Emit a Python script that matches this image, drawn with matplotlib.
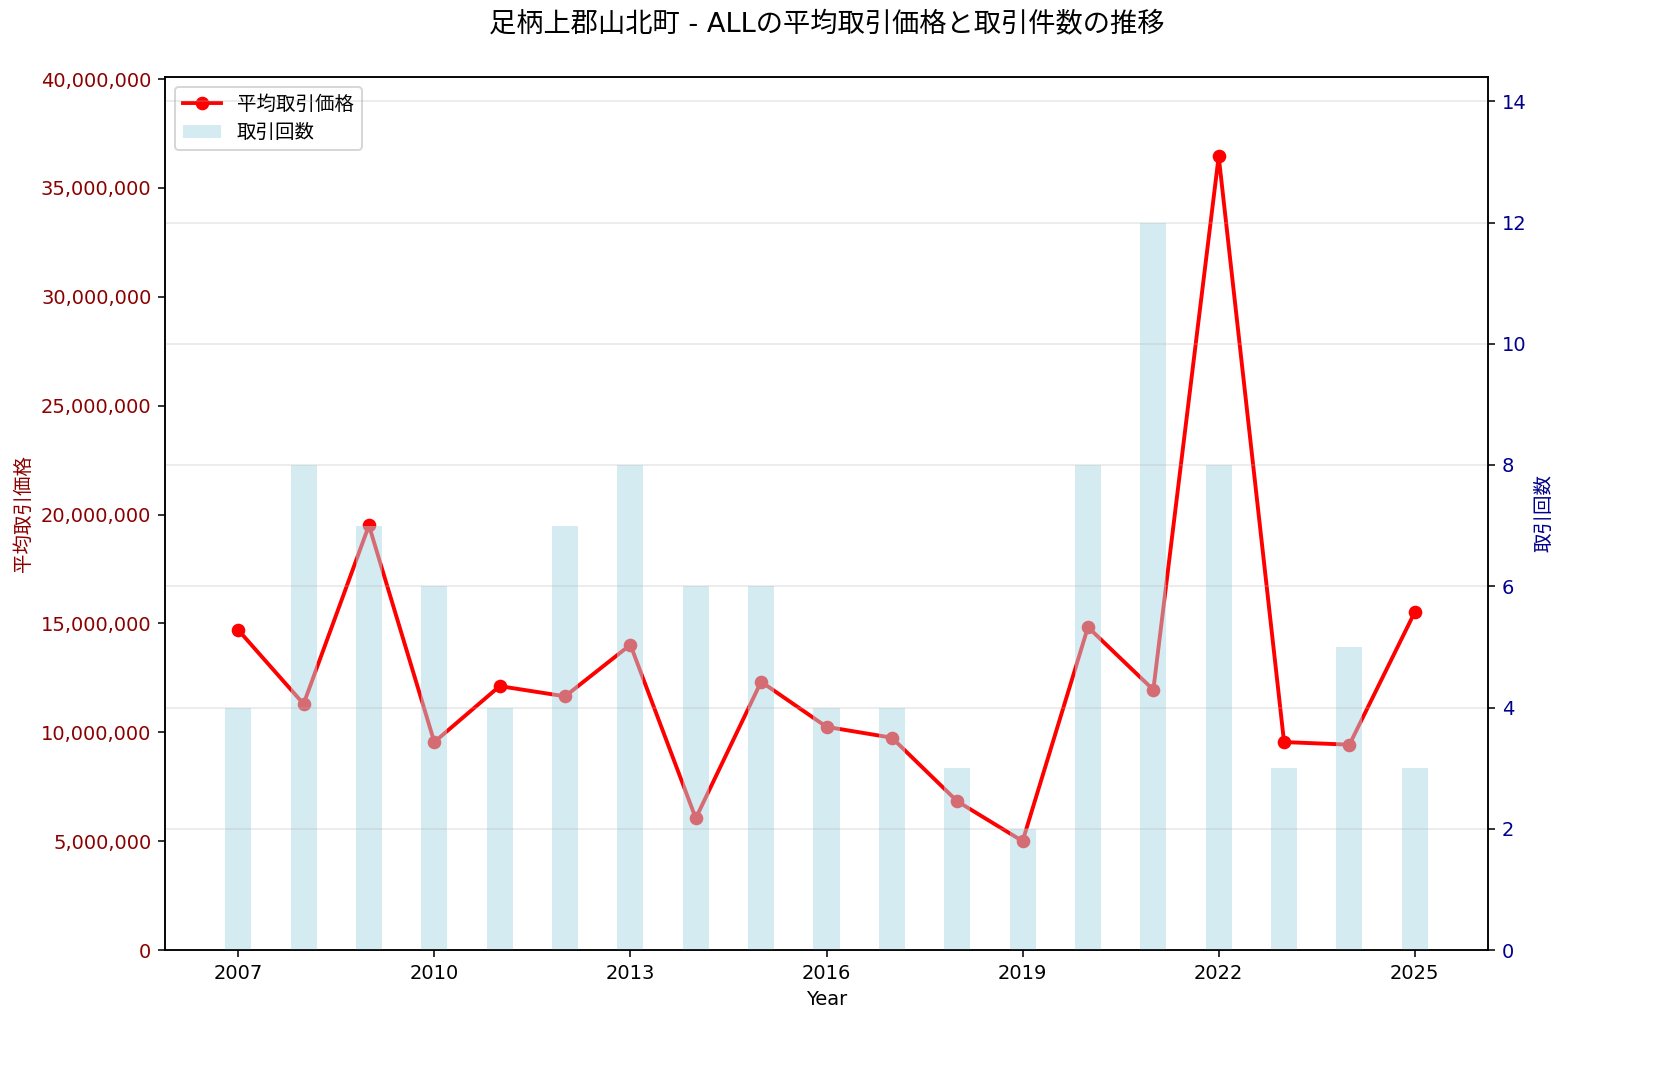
import numpy as np
import matplotlib
matplotlib.use('Agg')
import matplotlib.pyplot as plt
from matplotlib.ticker import FuncFormatter

plt.rcParams['font.family'] = ['DejaVu Sans', 'Noto Sans CJK JP']

# data
years = [2007, 2008, 2009, 2010, 2011, 2012, 2013, 2014, 2015, 2016,
         2017, 2018, 2019, 2020, 2021, 2022, 2023, 2024, 2025]
avg_price = [14700000, 11300000, 19500000, 9550000, 12120000, 11650000, 14020000,
             6050000, 12320000, 10250000, 9750000, 6830000, 5000000, 14830000,
             11950000, 36450000, 9550000, 9430000, 15520000]
counts = [4, 8, 7, 6, 4, 7, 8, 6, 6, 4, 4, 3, 2, 8, 12, 8, 3, 5, 3]

title = '足柄上郡山北町 - ALLの平均取引価格と取引件数の推移'

W, H, DPI = 1653, 1079, 140


def main():
    fig = plt.figure(figsize=(W / DPI, H / DPI), dpi=DPI)
    ax1 = fig.add_axes([165 / W, 1 - 950 / H, (1488 - 165) / W, (950 - 77) / H])

    # line for average price
    line, = ax1.plot(years, avg_price, color='red', marker='o', linewidth=2,
                     markersize=6, label='平均取引価格')
    ax1.set_xlabel('Year')
    ax1.set_ylabel('平均取引価格', color='darkred')
    ax1.tick_params(axis='y', labelcolor='darkred')
    ax1.yaxis.set_major_formatter(FuncFormatter(lambda v, p: f'{int(v):,}'))
    ax1.set_ylim(0, max(avg_price) * 1.1)

    # bars for number of transactions on the twin axis
    ax2 = ax1.twinx()
    bars = ax2.bar(years, counts, width=0.4, color='lightblue', alpha=0.5, label='取引回数')
    ax2.set_ylabel('取引回数', color='darkblue')
    ax2.tick_params(axis='y', labelcolor='darkblue')
    ax2.set_ylim(0, max(counts) * 1.2)
    ax2.grid(True, axis='y', alpha=0.3)

    ax1.set_xticks([2007, 2010, 2013, 2016, 2019, 2022, 2025])

    ax1.legend([line, bars], ['平均取引価格', '取引回数'], loc='upper left')

    fig.suptitle(title, fontsize=14, y=1 - 25 / H, va='center')
    fig.savefig('out.png', dpi=DPI)


main()
